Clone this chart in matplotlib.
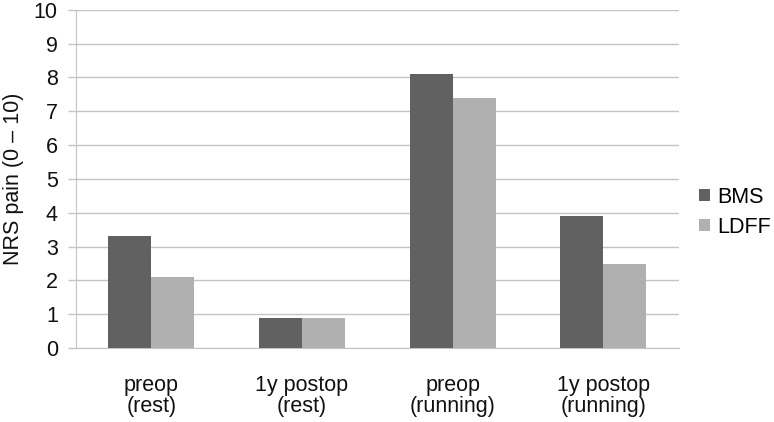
import matplotlib
matplotlib.use("Agg")
import matplotlib.pyplot as plt
import numpy as np

plt.rcParams["font.family"] = ["Liberation Sans", "DejaVu Sans"]

categories = ["preop\n(rest)", "1y postop\n(rest)", "preop\n(running)", "1y postop\n(running)"]
bms = [3.3, 0.9, 8.1, 3.9]
ldff = [2.1, 0.9, 7.4, 2.5]
yticks = list(range(0, 11))

DARK = "#616161"
LIGHT = "#b0b0b0"
GRID = "#c4c4c4"
TXT = "#111111"
FS = 15.5

fig = plt.figure(figsize=(7.74, 4.22), dpi=100)
ax = fig.add_axes([0.098, 0.175, 0.779, 0.802])

x = np.arange(len(categories))
w = 0.285
ax.bar(x - w / 2, bms, width=w, color=DARK, label="BMS", zorder=3)
ax.bar(x + w / 2, ldff, width=w, color=LIGHT, label="LDFF", zorder=3)

ax.set_xlim(-0.5, len(categories) - 0.5)
ax.set_ylim(0, 10)
ax.set_yticks(yticks)
ax.yaxis.grid(True, color=GRID, linewidth=1.0, zorder=0)
ax.set_axisbelow(True)

ax.set_xticks(x)
ax.set_xticklabels(categories, fontsize=FS, color=TXT, linespacing=1.0)
ax.tick_params(axis="x", length=0, pad=19)
ax.tick_params(axis="y", labelsize=FS, length=6, color=GRID, width=1.0,
               labelcolor=TXT, pad=7)

for s in ["top", "right"]:
    ax.spines[s].set_visible(False)
ax.spines["left"].set_color(GRID)
ax.spines["bottom"].set_color(GRID)

ax.set_ylabel("NRS pain (0 \u2013 10)", fontsize=FS, color=TXT, labelpad=7)

fig.legend(loc="center left", bbox_to_anchor=(699 / 774, 0.497), frameon=False,
           fontsize=FS, handlelength=0.5, handleheight=0.5, handletextpad=0.35,
           labelspacing=0.4, borderpad=0, borderaxespad=0)

fig.savefig("out.png", dpi=100)
